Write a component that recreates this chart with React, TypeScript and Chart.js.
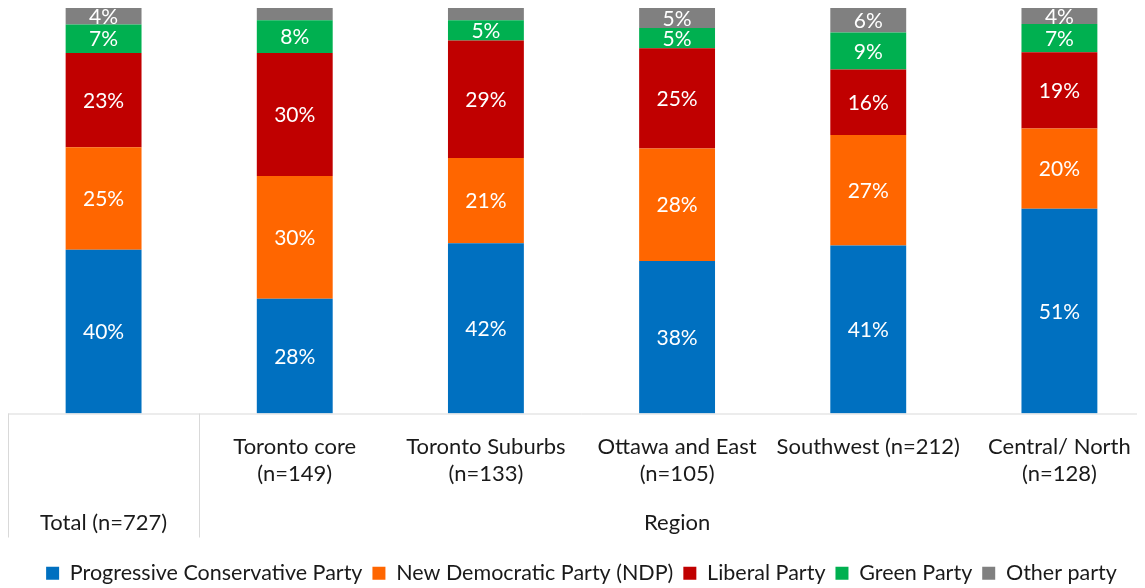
import React, { useEffect, useRef } from "react";
import { Chart, registerables } from "chart.js";

Chart.register(...registerables);

const categoryLines: string[][] = [
  [],
  ["Toronto core", "(n=149)"],
  ["Toronto Suburbs", "(n=133)"],
  ["Ottawa and East", "(n=105)"],
  ["Southwest (n=212)"],
  ["Central/ North", "(n=128)"],
];
const categoryKeys = ["Total", "Toronto core", "Toronto Suburbs", "Ottawa and East", "Southwest", "Central/ North"];
const groupLabels = ["Total (n=727)", "Region"];
const groupStarts = [0, 1];
const groupEnds = [0, 5];

const seriesNames = [
  "Progressive Conservative Party",
  "New Democratic Party (NDP)",
  "Liberal Party",
  "Green Party",
  "Other party",
];
const seriesColors = ["#0070C0", "#FF6600", "#C00000", "#00B050", "#808080"];

const pcValues = [40, 28, 42, 38, 41, 51];
const ndpValues = [25, 30, 21, 28, 27, 20];
const liberalValues = [23, 30, 29, 25, 16, 19];
const greenValues = [7, 8, 5, 5, 9, 7];
const otherValues = [4, 3, 3, 5, 6, 4];

const FONT = "Lato";
const TEXT = "#1a1a1a";

export default function App() {
  const ref = useRef<HTMLCanvasElement | null>(null);
  useEffect(() => {
    if (!ref.current) return;
    const raw = [pcValues, ndpValues, liberalValues, greenValues, otherValues];
    const sums = categoryKeys.map((_, i) => raw.reduce((s, arr) => s + arr[i], 0));
    const datasets = raw.map((arr, k) => ({
      label: seriesNames[k],
      data: arr.map((v, i) => (v / sums[i]) * 100),
      rawValues: arr,
      backgroundColor: seriesColors[k],
      borderWidth: 0,
      categoryPercentage: 1,
      barPercentage: 0.397,
    }));

    const labelPlugin = {
      id: "segLabels",
      afterDatasetsDraw(chart: any) {
        const ctx = chart.ctx;
        ctx.save();
        ctx.fillStyle = "#ffffff";
        ctx.font = `21px ${FONT}`;
        ctx.textAlign = "center";
        ctx.textBaseline = "middle";
        chart.data.datasets.forEach((ds: any, di: number) => {
          const meta = chart.getDatasetMeta(di);
          meta.data.forEach((bar: any, i: number) => {
            const v = ds.rawValues[i];
            if (v < 4) return;
            ctx.fillText(`${v}%`, bar.x, (bar.y + bar.base) / 2 + 1);
          });
        });
        ctx.restore();
      },
    };

    const tablePlugin = {
      id: "tableAxis",
      afterDraw(chart: any) {
        const ctx = chart.ctx;
        const area = chart.chartArea;
        const xs = chart.scales.x;
        const catW = (area.right - area.left) / categoryKeys.length;
        const bottom = area.bottom;
        ctx.save();
        ctx.strokeStyle = "#d9d9d9";
        ctx.lineWidth = 1;
        ctx.beginPath();
        ctx.moveTo(area.left, bottom + 0.5);
        ctx.lineTo(area.right, bottom + 0.5);
        const bounds = [area.left, area.left + catW, area.right];
        bounds.forEach((bx) => {
          const x = Math.round(bx) + 0.5;
          ctx.moveTo(x, bottom);
          ctx.lineTo(x, bottom + 124);
        });
        ctx.stroke();

        ctx.fillStyle = TEXT;
        ctx.font = `22px ${FONT}`;
        ctx.textAlign = "center";
        ctx.textBaseline = "middle";
        categoryLines.forEach((lines, i) => {
          const x = xs.getPixelForValue(i);
          lines.forEach((t, li) => {
            ctx.fillText(t, x, bottom + 33 + li * 27);
          });
        });
        groupLabels.forEach((g, gi) => {
          const x0 = xs.getPixelForValue(groupStarts[gi]) - catW / 2;
          const x1 = xs.getPixelForValue(groupEnds[gi]) + catW / 2;
          ctx.fillText(g, (x0 + x1) / 2, bottom + 109);
        });
        ctx.restore();
      },
    };

    const chart = new Chart(ref.current, {
      type: "bar",
      data: { labels: categoryKeys, datasets: datasets as any },
      options: {
        animation: false,
        responsive: false,
        maintainAspectRatio: false,
        layout: { padding: 0 },
        scales: {
          x: {
            stacked: true,
            grid: { display: false },
            border: { display: false },
            ticks: { display: false },
            afterFit(scale: any) {
              scale.height = 139;
            },
          },
          y: {
            stacked: true,
            display: false,
            min: 0,
            max: 100,
          },
        },
        plugins: {
          legend: {
            position: "bottom",
            labels: {
              boxWidth: 13,
              boxHeight: 13,
              padding: 10,
              color: TEXT,
              font: { family: FONT, size: 21.5 },
            },
          },
          tooltip: { enabled: false },
        },
      },
      plugins: [labelPlugin, tablePlugin],
    });
    return () => chart.destroy();
  }, []);

  return (
    <div style={{ width: 1137, height: 580, overflow: "hidden" }}>
      <canvas ref={ref} width={1147} height={586} style={{ display: "block" }} />
    </div>
  );
}
